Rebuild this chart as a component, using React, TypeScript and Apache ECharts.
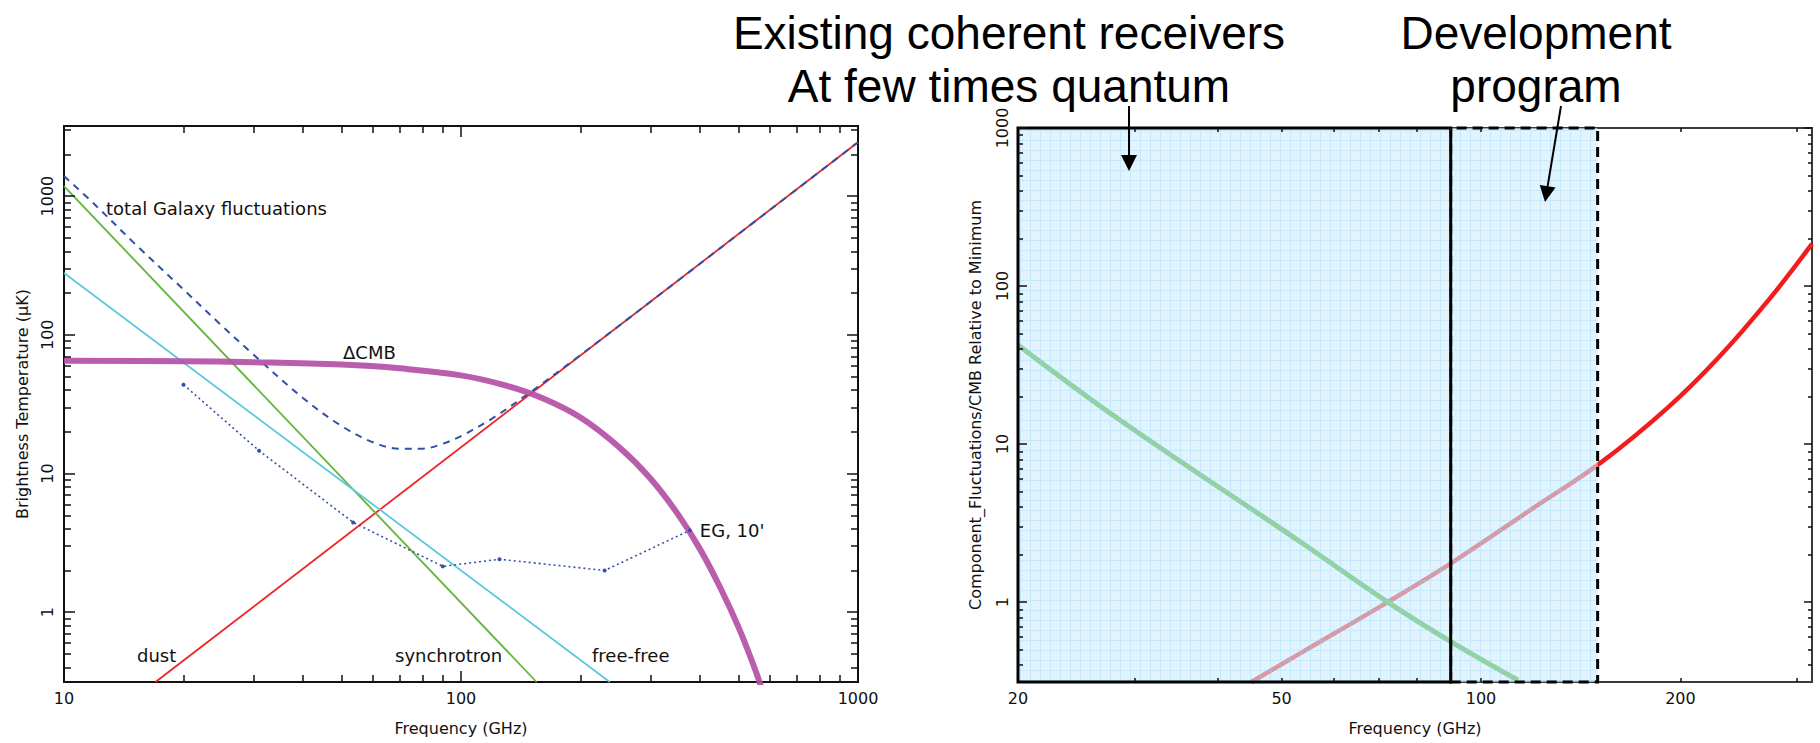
import React, { useEffect, useRef } from 'react';
import * as echarts from 'echarts';

const FONT = '"DejaVu Sans", sans-serif';
const INK = '#111';

// ---- Left panel: foreground brightness temperature (uK) vs frequency (GHz) ----
const dustFreq = [17, 1000];
const dustTemp = [0.314, 2445];
const synchFreq = [10, 155];
const synchTemp = [1180, 0.314];
const freeFreq = [10, 237];
const freeTemp = [279, 0.314];
const totalFreq = [10, 12, 15, 20, 25, 30, 40, 50, 60, 70, 80, 90, 100, 120, 150, 200, 300, 500, 700, 1000];
const totalTemp = [1393, 860, 460, 212, 116, 72, 35, 22, 16.8, 15.1, 15.1, 16.4, 18.6, 25, 38.8, 71.5, 173, 532, 1115, 2445];
const cmbFreq = [10, 20, 30, 50, 70, 100, 130, 160, 200, 250, 300, 350, 400, 450, 500, 550, 570];
const cmbTemp = [65, 64.5, 63.5, 61, 57.3, 51, 43, 35, 25.3, 15.5, 9.2, 5.2, 2.85, 1.5, 0.78, 0.39, 0.29];
const egFreq = [20, 31, 53.5, 90, 125, 230, 377];
const egTemp = [43.7, 14.6, 4.44, 2.14, 2.41, 2.0, 3.89];

const leftXRange = [10, 1000];
const leftYRange = [0.314, 3200];
const leftXMajor = [10, 100, 1000];
const leftXMinor = [20, 30, 40, 50, 60, 70, 80, 90, 200, 300, 400, 500, 600, 700, 800, 900];
const leftYMajor = [1, 10, 100, 1000];
const leftYMinor = [0.4, 0.5, 0.6, 0.7, 0.8, 0.9, 2, 3, 4, 5, 6, 7, 8, 9, 20, 30, 40, 50, 60, 70, 80, 90,
  200, 300, 400, 500, 600, 700, 800, 900, 2000, 3000];

// ---- Right panel: component fluctuations / CMB relative to minimum ----
const ratioDustFreq = [45, 53.4, 72.3, 90.3, 120, 152, 192, 228, 272, 316];
const ratioDust = [0.312, 0.475, 1.0, 1.77, 3.94, 7.68, 17.2, 35, 82, 185];
const ratioSynchFreq = [20, 28.5, 53.4, 72.3, 90.3, 113.8];
const ratioSynch = [42.4, 14.2, 2.4, 1.0, 0.558, 0.32];
const bandExisting = [20, 90];
const bandDevelopment = [90, 150];

const rightXRange = [20, 316];
const rightYRange = [0.312, 1000];
const rightXTicks = [30, 40, 50, 60, 70, 80, 90, 100, 200, 300];
const rightXLabels = [20, 50, 100, 200];
const rightYMajor = [1, 10, 100, 1000];
const rightYMinor = [0.4, 0.5, 0.6, 0.7, 0.8, 0.9, 2, 3, 4, 5, 6, 7, 8, 9, 20, 30, 40, 50, 60, 70, 80, 90,
  200, 300, 400, 500, 600, 700, 800, 900];

function pairs(xs: number[], ys: number[]) {
  return xs.map((x, i) => [x, ys[i]]);
}

type AxisSpec = {
  grid: number;
  pos: string;
  range: number[];
  ticks: number[];
  len: number;
  labels?: number[];
  rotate?: number;
  margin?: number;
  name?: string;
  nameGap?: number;
};

function makeAxis(s: AxisSpec) {
  return {
    type: 'log',
    logBase: 10,
    gridIndex: s.grid,
    position: s.pos,
    min: s.range[0],
    max: s.range[1],
    z: 20,
    axisLine: { show: false, onZero: false },
    axisTick: {
      show: true,
      inside: true,
      length: s.len,
      customValues: s.ticks,
      lineStyle: { color: INK, width: 1.5 },
    },
    axisLabel: s.labels
      ? {
          show: true,
          customValues: s.labels,
          formatter: (v: number) => String(Math.round(v)),
          rotate: s.rotate ?? 0,
          margin: s.margin ?? 8,
          color: INK,
          fontFamily: FONT,
          fontSize: 16,
        }
      : { show: false },
    splitLine: { show: false },
    minorTick: { show: false },
    minorSplitLine: { show: false },
    name: s.name ?? '',
    nameLocation: 'middle',
    nameGap: s.nameGap ?? 0,
    nameTextStyle: { color: INK, fontFamily: FONT, fontSize: 16 },
  };
}

function gridLabel(text: string, x: number, y: number) {
  return {
    type: 'text',
    x,
    y,
    z: 100,
    silent: true,
    style: {
      text,
      font: `18px ${FONT}`,
      fill: INK,
      textAlign: 'left',
      textVerticalAlign: 'middle',
      align: 'left',
      verticalAlign: 'middle',
    },
  };
}

// two-line caption above the right panel
function headline(text: string, x: number, y: number) {
  return {
    type: 'text',
    x,
    y,
    z: 100,
    silent: true,
    style: {
      text,
      font: '46px "Liberation Sans", sans-serif',
      lineHeight: 53,
      fill: '#000',
      textAlign: 'center',
      textVerticalAlign: 'top',
      align: 'center',
      verticalAlign: 'top',
    },
  };
}

function arrow(x1: number, y1: number, x2: number, y2: number) {
  const dx = x2 - x1;
  const dy = y2 - y1;
  const L = Math.hypot(dx, dy);
  const ux = dx / L;
  const uy = dy / L;
  const head = 16;
  const half = 8;
  const bx = x2 - ux * head;
  const by = y2 - uy * head;
  return [
    {
      type: 'line',
      z: 100,
      silent: true,
      shape: { x1, y1, x2: bx + ux * 2, y2: by + uy * 2 },
      style: { stroke: '#000', lineWidth: 2 },
    },
    {
      type: 'polygon',
      z: 100,
      silent: true,
      shape: { points: [[x2, y2], [bx - uy * half, by + ux * half], [bx + uy * half, by - ux * half]] },
      style: { fill: '#000' },
    },
  ];
}

export default function App() {
  const ref = useRef<HTMLDivElement>(null);

  useEffect(() => {
    document.body.style.margin = '0';
    document.body.style.background = '#fff';
    if (!ref.current) return;
    const chart = echarts.init(ref.current, undefined, { renderer: 'svg' });

    // light-blue graph-paper fill for the receiver bands
    const cv = document.createElement('canvas');
    cv.width = 10;
    cv.height = 10;
    const g = cv.getContext('2d');
    if (g) {
      g.fillStyle = 'rgba(205,235,252,0.6)';
      g.fillRect(0, 0, 10, 10);
      g.fillStyle = 'rgba(150,210,245,0.35)';
      g.fillRect(0, 0, 10, 1);
      g.fillRect(0, 1, 1, 9);
    }
    const bandFill = { image: cv, repeat: 'repeat', imageWidth: 10, imageHeight: 10 };

    const xAxis = [
      makeAxis({ grid: 0, pos: 'bottom', range: leftXRange, ticks: leftXMajor, len: 11, labels: leftXMajor, margin: 8, name: 'Frequency (GHz)', nameGap: 38 }),
      makeAxis({ grid: 0, pos: 'top', range: leftXRange, ticks: leftXMajor, len: 11 }),
      makeAxis({ grid: 0, pos: 'bottom', range: leftXRange, ticks: leftXMinor, len: 7 }),
      makeAxis({ grid: 0, pos: 'top', range: leftXRange, ticks: leftXMinor, len: 7 }),
      makeAxis({ grid: 1, pos: 'bottom', range: rightXRange, ticks: rightXTicks, len: 4, labels: rightXLabels, margin: 8, name: 'Frequency (GHz)', nameGap: 38 }),
      makeAxis({ grid: 1, pos: 'top', range: rightXRange, ticks: rightXTicks, len: 4 }),
    ];
    const yAxis = [
      makeAxis({ grid: 0, pos: 'left', range: leftYRange, ticks: leftYMajor, len: 11, labels: leftYMajor, rotate: 90, margin: 9, name: 'Brightness Temperature (μK)', nameGap: 34 }),
      makeAxis({ grid: 0, pos: 'right', range: leftYRange, ticks: leftYMajor, len: 11 }),
      makeAxis({ grid: 0, pos: 'left', range: leftYRange, ticks: leftYMinor, len: 7 }),
      makeAxis({ grid: 0, pos: 'right', range: leftYRange, ticks: leftYMinor, len: 7 }),
      makeAxis({ grid: 1, pos: 'left', range: rightYRange, ticks: rightYMajor, len: 9, labels: rightYMajor, rotate: 90, margin: 8, name: 'Component_Fluctuations/CMB Relative to Minimum', nameGap: 35 }),
      makeAxis({ grid: 1, pos: 'right', range: rightYRange, ticks: rightYMajor, len: 8 }),
      makeAxis({ grid: 1, pos: 'left', range: rightYRange, ticks: rightYMinor, len: 5 }),
      makeAxis({ grid: 1, pos: 'right', range: rightYRange, ticks: rightYMinor, len: 4 }),
    ];

    const leftLine = (name: string, data: number[][], color: string, width: number, extra: any = {}) => ({
      name,
      type: 'line',
      xAxisIndex: 0,
      yAxisIndex: 0,
      data,
      showSymbol: false,
      symbol: 'none',
      clip: true,
      silent: true,
      lineStyle: { color, width },
      ...extra,
    });

    const egData = egFreq.map((f, i) => ({
      value: [f, egTemp[i]],
      label:
        i === egFreq.length - 1
          ? {
              show: true,
              position: 'right',
              distance: 8,
              formatter: "EG, 10'",
              color: INK,
              fontFamily: FONT,
              fontSize: 18,
            }
          : { show: false },
    }));

    const option: any = {
      animation: false,
      backgroundColor: '#fff',
      grid: [
        { left: 64, top: 126, width: 794, height: 556, show: true, borderColor: INK, borderWidth: 2, backgroundColor: 'transparent', containLabel: false, outerBoundsMode: 'none' },
        { left: 1018, top: 128, width: 794, height: 554, show: true, borderColor: '#3a3a3a', borderWidth: 2, backgroundColor: 'transparent', containLabel: false, outerBoundsMode: 'none' },
      ],
      xAxis,
      yAxis,
      series: [
        leftLine('dust', pairs(dustFreq, dustTemp), '#ee2424', 1.8),
        leftLine('synchrotron', pairs(synchFreq, synchTemp), '#62b43c', 1.8),
        leftLine('free-free', pairs(freeFreq, freeTemp), '#5bc9dd', 1.8),
        leftLine('total Galaxy fluctuations', pairs(totalFreq, totalTemp), '#3350a8', 2, {
          smooth: 0.35,
          lineStyle: { color: '#3350a8', width: 2, type: [7, 6] },
        }),
        leftLine('ΔCMB', pairs(cmbFreq, cmbTemp), '#b44fa5', 6, {
          smooth: 0.4,
          lineStyle: { color: '#b44fa5', width: 6, opacity: 0.92 },
        }),
        {
          name: "EG, 10'",
          type: 'line',
          xAxisIndex: 0,
          yAxisIndex: 0,
          data: egData,
          symbol: 'circle',
          symbolSize: 4,
          showSymbol: true,
          silent: true,
          itemStyle: { color: '#3350a8' },
          lineStyle: { color: '#3350a8', width: 1.6, type: [2, 3] },
        },
        {
          name: 'dust / CMB',
          type: 'line',
          xAxisIndex: 4,
          yAxisIndex: 4,
          data: pairs(ratioDustFreq, ratioDust),
          smooth: 0.4,
          showSymbol: false,
          symbol: 'none',
          silent: true,
          z: 2,
          lineStyle: { color: '#f31c1c', width: 4.5 },
        },
        {
          name: 'synchrotron / CMB',
          type: 'line',
          xAxisIndex: 4,
          yAxisIndex: 4,
          data: pairs(ratioSynchFreq, ratioSynch),
          smooth: 0.4,
          showSymbol: false,
          symbol: 'none',
          silent: true,
          z: 2,
          lineStyle: { color: '#37ac10', width: 5 },
        },
        {
          name: 'bands',
          type: 'line',
          xAxisIndex: 4,
          yAxisIndex: 4,
          data: [],
          silent: true,
          z: 10,
          markArea: {
            silent: true,
            z: 10,
            label: { show: false },
            data: [
              [
                {
                  xAxis: bandDevelopment[0],
                  itemStyle: { color: bandFill, borderColor: '#000', borderWidth: 3, borderType: [10, 6] },
                },
                { xAxis: bandDevelopment[1] },
              ],
              [
                {
                  xAxis: bandExisting[0],
                  itemStyle: { color: bandFill, borderColor: '#000', borderWidth: 3, borderType: 'solid' },
                },
                { xAxis: bandExisting[1] },
              ],
            ],
          },
        },
      ],
      graphic: [
        gridLabel('total Galaxy fluctuations', 106, 208),
        gridLabel('ΔCMB', 343, 352),
        gridLabel('dust', 137, 655),
        gridLabel('synchrotron', 395, 655),
        gridLabel('free-free', 592, 655),
        headline('Existing coherent receivers\nAt few times quantum', 1009, 6),
        headline('Development\nprogram', 1536, 6),
        ...arrow(1129, 106, 1129, 171),
        ...arrow(1561, 106, 1545, 202),
      ],
    };

    chart.setOption(option);
    return () => {
      chart.dispose();
    };
  }, []);

  return <div ref={ref} style={{ width: 1820, height: 743 }} />;
}
